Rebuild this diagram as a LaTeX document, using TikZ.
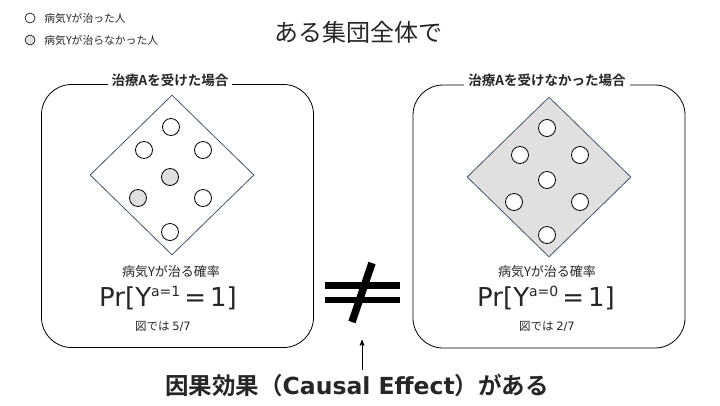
\documentclass[tikz,border=0pt]{standalone}
\usepackage{fontspec}
\setmainfont{Noto Sans CJK JP}[BoldFont={Noto Sans CJK JP Bold}]
\newfontfamily\latin{DejaVu Sans}
\usetikzlibrary{arrows,positioning,shapes.geometric}
\definecolor{cured}{HTML}{FFFFFF}
\definecolor{uncured}{HTML}{E0E0E0}
\definecolor{frame}{HTML}{44546A}
\definecolor{ink}{HTML}{262626}

\begin{document}
\begin{tikzpicture}[x=1pt,y=-1pt,->,>=stealth',thick,
  person node/.style={circle,draw,line width=0.8pt,fill=cured,minimum size=17pt,inner sep=0pt},
  sick node/.style={person node,fill=uncured},
  group node/.style={diamond,draw=frame,line width=0.8pt,inner sep=0pt,minimum width=164pt,minimum height=160pt},
  case node/.style={rectangle,draw,line width=0.8pt,rounded corners=30pt,minimum width=272pt,minimum height=263pt},
  head node/.style={fill=white,inner sep=4pt,text=ink,font=\bfseries\fontsize{13.5}{15}\selectfont},
  prob node/.style={text=ink,font=\fontsize{13}{15}\selectfont},
  pr node/.style={text=ink,font=\latin\fontsize{26}{30}\selectfont},
  fig node/.style={text=ink,font=\fontsize{11.5}{13}\selectfont},
  key node/.style={text=ink,font=\fontsize{10.8}{12}\selectfont,right,inner sep=0pt}]
  \useasboundingbox (0,0) rectangle (720,405);

  % legend
  \node[person node,minimum size=10pt,line width=0.6pt] (k1) at (30,18) {};
  \node[sick node,minimum size=10pt,line width=0.6pt] (k2) at (30,40) {};
  \node[key node] at (44,18) {病気Yが治った人};
  \node[key node] at (44,40) {病気Yが治らなかった人};
  \node[text=ink,font=\fontsize{24}{26}\selectfont] (title) at (358,32) {ある集団全体で};

  % treated
  \node[case node] (lbox) at (177.5,216) {};
  \node[head node] (lhead) at (170,80) {治療Aを受けた場合};
  \node[group node] (lgroup) at (172,175) {};
  \node[person node] (l1) at (171,127) {};
  \node[person node] (l2) at (144,150) {};
  \node[person node] (l3) at (203,150) {};
  \node[sick node]   (l4) at (170,177) {};
  \node[sick node]   (l5) at (138,198) {};
  \node[person node] (l6) at (203,198) {};
  \node[person node] (l7) at (170,232) {};
  \node[prob node] (lprob) at (171,272) {病気Yが治る確率};
  \node[pr node] (lpr) at (168,298) {Pr[Y\raisebox{0.4em}{\fontsize{14}{14}\selectfont a=1}\kern4pt=\kern4pt1]};
  \node[fig node] (lfig) at (163,326) {図では {\latin 5/7}};

  % untreated
  \node[case node] (rbox) at (549,216.5) {};
  \node[head node] (rhead) at (547,80) {治療Aを受けなかった場合};
  \node[group node,fill=uncured] (rgroup) at (549,177) {};
  \node[person node] (r1) at (547,128) {};
  \node[person node] (r2) at (520,155) {};
  \node[person node] (r3) at (580,155) {};
  \node[person node] (r4) at (547,180) {};
  \node[person node] (r5) at (514,202) {};
  \node[person node] (r6) at (580,202) {};
  \node[person node] (r7) at (547,235) {};
  \node[prob node] (rprob) at (547,272) {病気Yが治る確率};
  \node[pr node] (rpr) at (546,298) {Pr[Y\raisebox{0.4em}{\fontsize{14}{14}\selectfont a=0}\kern4pt=\kern4pt1]};
  \node[fig node] (rfig) at (547,326) {図では {\latin 2/7}};

  % not equal
  \fill[black] (325,282) rectangle (400,288.5);
  \fill[black] (325,296.5) rectangle (400,303);
  \draw[-,line width=7.5pt] (372,263) -- (352,322);

  \coordinate (neq) at (362,340);
  \node[text=ink,font=\bfseries\fontsize{23.5}{26}\selectfont] (effect) at (357,385) {因果効果（{\latin\bfseries Causal Effect}）がある};
  \draw[line width=1pt] (effect.north -| neq) -- (neq);
\end{tikzpicture}
\end{document}
